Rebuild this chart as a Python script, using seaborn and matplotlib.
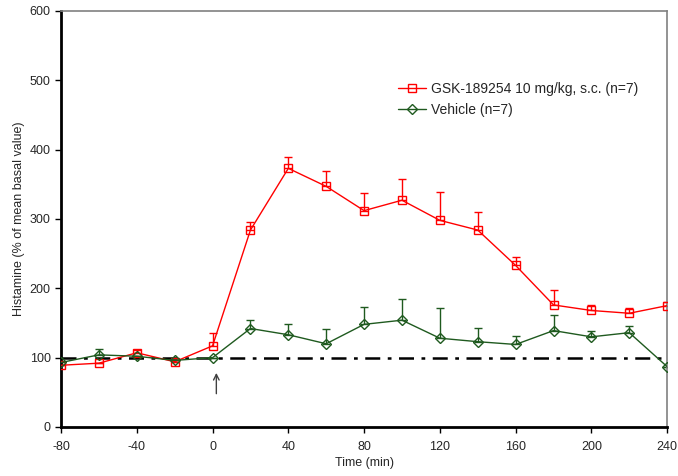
import numpy as np
import pandas as pd
import matplotlib
matplotlib.use('Agg')
import matplotlib.pyplot as plt
import seaborn as sns

# datos
tiempo = [-80, -60, -40, -20, 0, 20, 40, 60, 80, 100, 120, 140, 160, 180, 200, 220, 240]
gsk_media = [89, 92, 107, 94, 117, 284, 373, 347, 312, 327, 298, 284, 233, 176, 168, 164, 175]
gsk_err = [0, 0, 4, 0, 19, 11, 16, 22, 26, 31, 41, 26, 12, 22, 8, 8, 5]
veh_media = [93, 104, 102, 96, 100, 142, 133, 120, 148, 154, 128, 123, 119, 139, 130, 136, 87]
veh_err = [0, 9, 0, 0, 0, 12, 15, 22, 25, 30, 44, 20, 12, 22, 8, 9, 0]

lbl_gsk = 'GSK-189254 10 mg/kg, s.c. (n=7)'
lbl_veh = 'Vehicle (n=7)'
rojo = '#ff0000'
verde = '#1f5a1f'

df = pd.DataFrame({'t': tiempo * 2,
                   'hist': gsk_media + veh_media,
                   'grupo': [lbl_gsk] * len(tiempo) + [lbl_veh] * len(tiempo)})

sns.set_style('white')
plt.rcParams['font.family'] = ['Liberation Sans', 'DejaVu Sans']
plt.rcParams['axes.unicode_minus'] = False

fig = plt.figure(figsize=(6.78, 4.76), dpi=100)
ax = fig.add_axes([0.090, 0.103, 0.894, 0.874])

# linea basal
ax.plot([-80, 240], [100, 100], color='black', lw=1.8, ls=(0, (6, 3, 1.5, 3)), zorder=1)

# barras de error solo hacia arriba
ax.errorbar(tiempo, gsk_media, yerr=[np.zeros(len(gsk_err)), gsk_err], fmt='none',
            ecolor=rojo, elinewidth=1, capsize=3, capthick=1, zorder=2)
ax.errorbar(tiempo, veh_media, yerr=[np.zeros(len(veh_err)), veh_err], fmt='none',
            ecolor=verde, elinewidth=1, capsize=3, capthick=1, zorder=2)

sns.lineplot(data=df, x='t', y='hist', hue='grupo', style='grupo',
             palette={lbl_gsk: rojo, lbl_veh: verde},
             markers={lbl_gsk: 's', lbl_veh: 'D'}, dashes=False,
             markersize=6, markerfacecolor='none', markeredgewidth=1,
             linewidth=1, ax=ax, zorder=3)
for ln in ax.get_lines():
    if ln.get_marker() in ('s', 'D'):
        ln.set_markeredgecolor(ln.get_color())
        ln.set_markerfacecolor('none')
        if ln.get_marker() == 'D':
            ln.set_markersize(5)

# flecha de administracion
ax.annotate('', xy=(2, 82), xytext=(2, 44),
            arrowprops=dict(arrowstyle='->', color='#404040', lw=1))

ax.set_xlim(-80, 240)
ax.set_ylim(0, 600)
ax.set_xticks(range(-80, 241, 40))
ax.set_yticks(range(0, 601, 100))
ax.set_xlabel('Time (min)', fontsize=9, labelpad=3)
ax.set_ylabel('Histamine (% of mean basal value)', fontsize=9, labelpad=3)
ax.tick_params(axis='both', labelsize=9, direction='out', length=4, width=1, color='black',
               bottom=True, left=True)
ax.tick_params(axis='x', pad=6)

for s in ['left', 'bottom']:
    ax.spines[s].set_color('black')
    ax.spines[s].set_linewidth(2)
for s in ['top', 'right']:
    ax.spines[s].set_color('#808080')
    ax.spines[s].set_linewidth(1.2)

h, l = ax.get_legend_handles_labels()
ax.legend(h, l, loc='upper left', bbox_to_anchor=(0.535, 0.86), frameon=False,
          fontsize=10, handlelength=2.0, handletextpad=0.4, labelspacing=0.5)

fig.savefig('out.png', dpi=100)
